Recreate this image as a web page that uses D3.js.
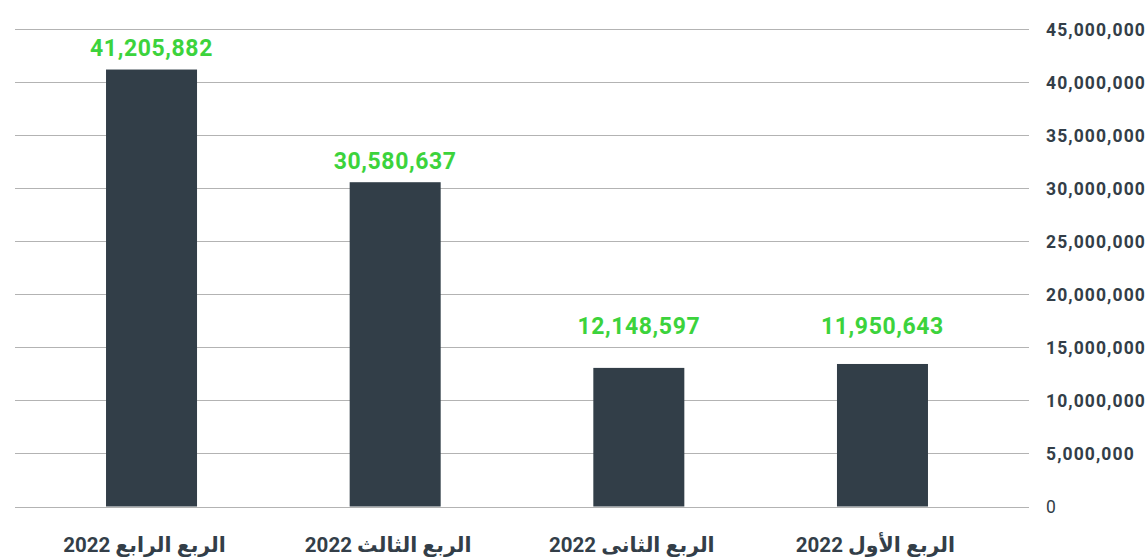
<!DOCTYPE html>
<html><head><meta charset="utf-8">
<script src="https://cdn.jsdelivr.net/npm/d3@7"></script>
<style>
html,body{margin:0;padding:0;background:#fff;}
svg{display:block;}
</style></head>
<body><svg id="c" width="1148" height="557"></svg>
<script>
// Categories in display order (left to right, RTL chart)
const categories = ["الربع الرابع 2022", "الربع الثالث 2022", "الربع الثانى 2022", "الربع الأول 2022"];
// Bar heights as drawn in the picture
const barValues = [41205882, 30580637, 13070000, 13440000];
// Value labels printed above bars
const labelValues = [41205882, 30580637, 12148597, 11950643];
// Y axis ticks
const yTicks = [0, 5000000, 10000000, 15000000, 20000000, 25000000, 30000000, 35000000, 40000000, 45000000];

const svg = d3.select("#c");
const y = d3.scaleLinear().domain([0, 45000000]).range([506.5, 29.3]);
const x = d3.scaleBand().domain(categories).range([29.7, 1004.3]).paddingInner(0.6265).paddingOuter(0.31325);
const fmt = d3.format(",");

// gridlines
svg.append("g").selectAll("line").data(yTicks).join("line")
  .attr("x1", 15).attr("x2", 1029)
  .attr("y1", d => Math.round(y(d)) + 0.5).attr("y2", d => Math.round(y(d)) + 0.5)
  .attr("stroke", "#b3b3b3").attr("stroke-width", 1);

// y axis labels
svg.append("g").selectAll("text").data(yTicks).join("text")
  .attr("x", 1046).attr("y", d => y(d)).attr("dy", "0.36em")
  .attr("font-family", "Roboto, 'DejaVu Sans', sans-serif")
  .attr("font-weight", d => d === 0 ? 400 : 700)
  .attr("font-size", 17.5).attr("letter-spacing", "1.1px")
  .attr("fill", "#333e48")
  .text(d => fmt(d));

// bars
svg.append("g").selectAll("rect").data(categories).join("rect")
  .attr("x", d => x(d)).attr("width", x.bandwidth())
  .attr("y", (d, i) => y(barValues[i]))
  .attr("height", (d, i) => y(0) - y(barValues[i]))
  .attr("fill", "#323e48");

// value labels
svg.append("g").selectAll("text").data(categories).join("text")
  .attr("x", d => x(d) + x.bandwidth() / 2)
  .attr("y", (d, i) => Math.min(y(barValues[i]), y(15000000)) - 13.4)
  .attr("text-anchor", "middle")
  .attr("font-family", "Roboto, 'DejaVu Sans', sans-serif")
  .attr("font-weight", 700).attr("font-size", 23).attr("letter-spacing", "0.6px")
  .attr("fill", "#3cd33c")
  .text((d, i) => fmt(labelValues[i]));

// category labels
svg.append("g").selectAll("text").data(categories).join("text")
  .attr("x", d => x(d) + x.bandwidth() / 2 - 7)
  .attr("y", 552)
  .attr("text-anchor", "middle")
  .attr("direction", "rtl")
  .attr("font-family", "Roboto, 'DejaVu Sans', sans-serif")
  .attr("font-weight", 700).attr("font-size", 20.5)
  .attr("fill", "#333e48")
  .text(d => d);
</script></body></html>
